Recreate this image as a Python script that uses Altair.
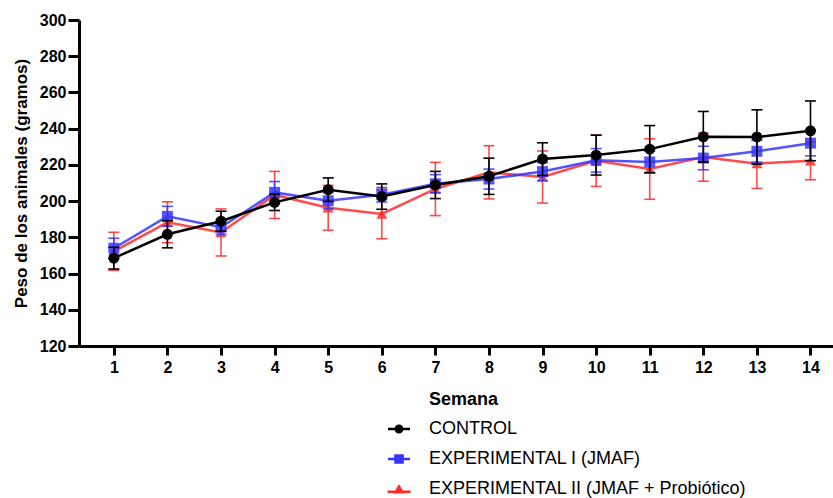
import altair as alt
import pandas as pd

weeks = list(range(1, 15))
groups = ["CONTROL", "EXPERIMENTAL I (JMAF)", "EXPERIMENTAL II (JMAF + Probiótico)"]
colors = ["#000000", "#3535ff", "#ff2b2b"]
shapes = ["circle", "square", "triangle-up"]
y_ticks = [120, 140, 160, 180, 200, 220, 240, 260, 280, 300]

control = [168.5, 181.7, 188.9, 199.3, 206.3, 202.5, 208.9, 213.7, 223.2, 225.4, 228.7, 235.5, 235.4, 238.8]
control_err = [6, 7.5, 5.5, 4.5, 6.5, 7, 7.5, 10, 9, 11, 13, 14, 15, 16.5]
exp1 = [174.0, 191.6, 185.6, 204.8, 200.2, 203.5, 209.6, 212.2, 216.3, 222.5, 221.6, 223.8, 227.5, 232.0]
exp1_err = [5.5, 5.5, 4, 6, 4.5, 4, 5, 5.5, 5, 6.5, 6, 6.5, 6, 7]
exp2 = [172.3, 188.3, 182.7, 203.4, 196.3, 192.9, 206.7, 215.9, 213.3, 222.3, 217.7, 224.3, 220.7, 222.3]
exp2_err = [10.5, 11.3, 13, 13, 12.4, 13.7, 14.7, 14.7, 14.4, 14.2, 16.7, 13.3, 13.7, 10.5]

series = [control, exp1, exp2]
errs = [control_err, exp1_err, exp2_err]

rows = []
for g, vals, es in zip(groups, series, errs):
    for w, v, e in zip(weeks, vals, es):
        rows.append({"Semana": w, "Peso": v, "lo": v - e, "hi": v + e, "Grupo": g})
df = pd.DataFrame(rows)

FONT = "Liberation Sans"

xscale = alt.Scale(domain=[0.35, 14.42], nice=False, zero=False)
yscale = alt.Scale(domain=[120, 300], nice=False, zero=False)

xaxis = alt.Axis(values=weeks, title="Semana", labelFont=FONT, labelFontSize=16,
                 labelFontWeight="bold", labelColor="black", titleFont=FONT,
                 titleFontSize=18, titleFontWeight="bold", titleColor="black",
                 domainColor="black", domainWidth=3, tickColor="black", tickWidth=3,
                 tickSize=9, labelPadding=4, titlePadding=15, grid=False,
                 labelFlush=False, labelOverlap=False, titleX=384, titleAlign="center")
yaxis = alt.Axis(values=y_ticks, title="Peso de los animales (gramos)",
                 labelFont=FONT, labelFontSize=16, labelFontWeight="bold",
                 labelColor="black", titleFont=FONT, titleFontSize=17,
                 titleFontWeight="bold", titleColor="black", domainColor="black",
                 domainWidth=3, tickColor="black", tickWidth=3, tickSize=11,
                 labelPadding=2, titlePadding=9, grid=False, labelFlush=False,
                 labelOverlap=False)


def X():
    return alt.X("Semana:Q", scale=xscale, axis=xaxis)


def Y(field):
    return alt.Y(field, type="quantitative", scale=yscale, axis=yaxis)


base = alt.Chart(df)
layers = []
# draw order: red, blue, black on top
for idx in [2, 1, 0]:
    g = groups[idx]
    c = colors[idx]
    sub = base.transform_filter(alt.datum.Grupo == g)
    op = 1.0 if idx == 0 else 0.85
    rule = sub.mark_rule(strokeWidth=1.6, opacity=op).encode(
        x=X(), y=Y("lo"), y2="hi:Q", color=alt.value(c))
    cap_lo = sub.mark_tick(orient="horizontal", size=11, thickness=1.6, opacity=op).encode(
        x=X(), y=Y("lo"), color=alt.value(c))
    cap_hi = sub.mark_tick(orient="horizontal", size=11, thickness=1.6, opacity=op).encode(
        x=X(), y=Y("hi"), color=alt.value(c))
    line = sub.mark_line(strokeWidth=2.5, opacity=op).encode(
        x=X(), y=Y("Peso"), color=alt.value(c))
    pts = sub.mark_point(filled=True, size=120, opacity=op).encode(
        x=X(), y=Y("Peso"), color=alt.value(c), shape=alt.value(shapes[idx]))
    layers += [rule, cap_lo, cap_hi, line, pts]

# legend symbols: a short line with the marker on it
legend_paths = [
    "M-1.1,-0.13 L1.1,-0.13 L1.1,0.13 L-1.1,0.13 Z M0.45,0 A0.45,0.45 0 1,1 -0.45,0 A0.45,0.45 0 1,1 0.45,0 Z",
    "M-1.1,-0.13 L1.1,-0.13 L1.1,0.13 L-1.1,0.13 Z M-0.48,-0.48 L0.48,-0.48 L0.48,0.48 L-0.48,0.48 Z",
    "M-1.15,0.15 L1.15,0.15 L1.15,0.41 L-1.15,0.41 Z M0,-0.5 L0.55,0.45 L-0.55,0.45 Z",
]
legend_layer = base.transform_filter("false").mark_point(filled=True, opacity=1).encode(
    x=X(),
    y=Y("Peso"),
    color=alt.Color("Grupo:N", scale=alt.Scale(domain=groups, range=colors),
                    legend=alt.Legend(orient="none", legendX=310, legendY=399,
                                      direction="vertical", title=None,
                                      labelFont=FONT, labelFontSize=18,
                                      labelColor="black", symbolSize=400,
                                      symbolOpacity=1, symbolStrokeWidth=0,
                                      labelOffset=20, rowPadding=11, padding=0,
                                      labelLimit=500)),
    shape=alt.Shape("Grupo:N", scale=alt.Scale(domain=groups, range=legend_paths)),
)
layers.append(legend_layer)

chart = alt.layer(*layers).properties(
    width=754, height=326,
    autosize=alt.AutoSizeParams(type="none"),
    padding={"left": 79, "top": 20, "right": 0, "bottom": 152},
    background="white",
).configure_view(stroke=None)

chart.save("out.html", embed_options={"renderer": "svg", "actions": False})
